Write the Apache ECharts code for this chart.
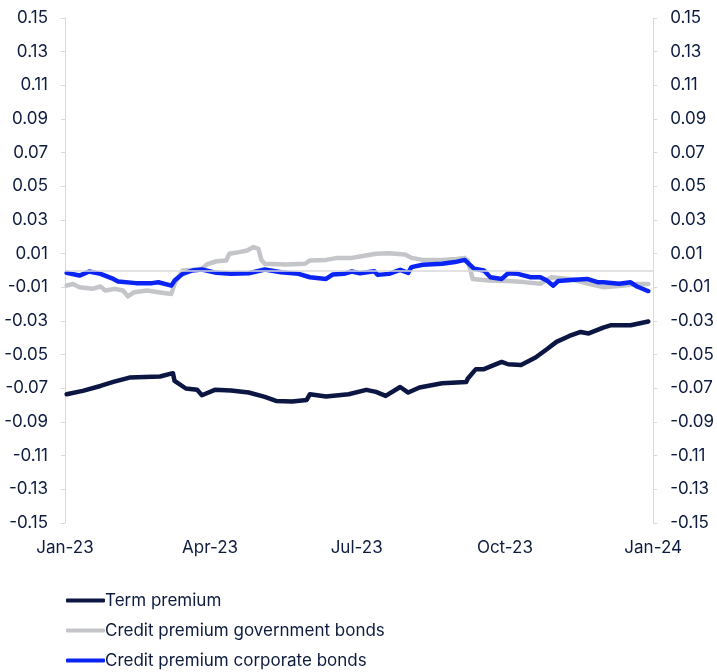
<!DOCTYPE html>
<html>
<head>
<meta charset="utf-8">
<script src="https://cdn.jsdelivr.net/npm/echarts@6/dist/echarts.min.js"></script>
<style>
html,body{margin:0;padding:0;background:#fff;}
#chart{width:717px;height:672px;}
</style>
</head>
<body>
<div id="chart"></div>
<script>
// ---- data ----
const seriesNames = ['Term premium', 'Credit premium government bonds', 'Credit premium corporate bonds'];

const termPremium = [
  ['2023-01-02', -0.0735], ['2023-01-12', -0.0715], ['2023-01-23', -0.0686], ['2023-01-31', -0.0662],
  ['2023-02-10', -0.0636], ['2023-03-01', -0.0630], ['2023-03-09', -0.0610], ['2023-03-10', -0.0656],
  ['2023-03-17', -0.0701], ['2023-03-24', -0.0709], ['2023-03-27', -0.0741], ['2023-04-04', -0.0709],
  ['2023-04-14', -0.0713], ['2023-04-25', -0.0725], ['2023-05-05', -0.0751], ['2023-05-12', -0.0775],
  ['2023-05-22', -0.0778], ['2023-05-31', -0.0769], ['2023-06-02', -0.0735], ['2023-06-12', -0.0749],
  ['2023-06-26', -0.0735], ['2023-07-07', -0.0709], ['2023-07-13', -0.0721], ['2023-07-19', -0.0745],
  ['2023-07-28', -0.0692], ['2023-08-02', -0.0725], ['2023-08-09', -0.0695], ['2023-08-23', -0.0670],
  ['2023-09-07', -0.0662], ['2023-09-08', -0.0642], ['2023-09-13', -0.0586], ['2023-09-18', -0.0586],
  ['2023-09-29', -0.0543], ['2023-10-03', -0.0557], ['2023-10-11', -0.0561], ['2023-10-20', -0.0517],
  ['2023-10-27', -0.0468], ['2023-11-02', -0.0424], ['2023-11-10', -0.0389], ['2023-11-17', -0.0365],
  ['2023-11-22', -0.0374], ['2023-12-01', -0.0339], ['2023-12-06', -0.0325], ['2023-12-18', -0.0325],
  ['2023-12-29', -0.0303]
];

const creditGov = [
  ['2023-01-02', -0.0089], ['2023-01-06', -0.0080], ['2023-01-10', -0.0099], ['2023-01-18', -0.0109],
  ['2023-01-23', -0.0095], ['2023-01-26', -0.0119], ['2023-02-01', -0.0109], ['2023-02-06', -0.0119],
  ['2023-02-09', -0.0154], ['2023-02-13', -0.0129], ['2023-02-21', -0.0119], ['2023-02-28', -0.0129],
  ['2023-03-08', -0.0139], ['2023-03-10', -0.0080], ['2023-03-15', 0.0000], ['2023-03-21', 0.0004],
  ['2023-03-27', 0.0010], ['2023-03-30', 0.0036], ['2023-04-05', 0.0055], ['2023-04-11', 0.0060],
  ['2023-04-13', 0.0099], ['2023-04-19', 0.0109], ['2023-04-24', 0.0119], ['2023-04-28', 0.0139],
  ['2023-05-01', 0.0129], ['2023-05-03', 0.0060], ['2023-05-05', 0.0040], ['2023-05-18', 0.0036],
  ['2023-05-30', 0.0040], ['2023-06-02', 0.0060], ['2023-06-12', 0.0063], ['2023-06-19', 0.0075],
  ['2023-06-28', 0.0075], ['2023-07-03', 0.0083], ['2023-07-13', 0.0099], ['2023-07-21', 0.0103],
  ['2023-07-31', 0.0095], ['2023-08-04', 0.0075], ['2023-08-11', 0.0063], ['2023-08-23', 0.0063],
  ['2023-09-01', 0.0069], ['2023-09-06', 0.0075], ['2023-09-08', 0.0060], ['2023-09-11', -0.0050],
  ['2023-09-21', -0.0060], ['2023-10-03', -0.0063], ['2023-10-13', -0.0069], ['2023-10-23', -0.0079],
  ['2023-10-30', -0.0040], ['2023-11-10', -0.0050], ['2023-11-22', -0.0079], ['2023-12-01', -0.0099],
  ['2023-12-14', -0.0089], ['2023-12-22', -0.0080], ['2023-12-29', -0.0080]
];

const creditCorp = [
  ['2023-01-02', -0.0014], ['2023-01-10', -0.0030], ['2023-01-16', -0.0006], ['2023-01-23', -0.0020],
  ['2023-01-31', -0.0050], ['2023-02-03', -0.0065], ['2023-02-14', -0.0075], ['2023-02-24', -0.0075],
  ['2023-02-28', -0.0070], ['2023-03-08', -0.0090], ['2023-03-10', -0.0060], ['2023-03-15', -0.0020],
  ['2023-03-21', 0.0000], ['2023-03-27', 0.0006], ['2023-04-05', -0.0014], ['2023-04-14', -0.0020],
  ['2023-04-25', -0.0016], ['2023-05-05', 0.0006], ['2023-05-15', -0.0010], ['2023-05-26', -0.0020],
  ['2023-06-02', -0.0040], ['2023-06-12', -0.0050], ['2023-06-16', -0.0024], ['2023-06-23', -0.0020],
  ['2023-06-28', -0.0006], ['2023-07-03', -0.0016], ['2023-07-12', -0.0004], ['2023-07-14', -0.0026],
  ['2023-07-21', -0.0020], ['2023-07-28', 0.0004], ['2023-08-02', -0.0014], ['2023-08-04', 0.0020],
  ['2023-08-11', 0.0034], ['2023-08-23', 0.0040], ['2023-08-31', 0.0050], ['2023-09-06', 0.0063],
  ['2023-09-12', 0.0010], ['2023-09-18', 0.0000], ['2023-09-22', -0.0040], ['2023-09-29', -0.0050],
  ['2023-10-03', -0.0016], ['2023-10-09', -0.0020], ['2023-10-17', -0.0040], ['2023-10-23', -0.0040],
  ['2023-10-27', -0.0060], ['2023-10-31', -0.0090], ['2023-11-03', -0.0063], ['2023-11-13', -0.0055],
  ['2023-11-21', -0.0050], ['2023-11-28', -0.0070], ['2023-12-01', -0.0070], ['2023-12-11', -0.0079],
  ['2023-12-18', -0.0070], ['2023-12-22', -0.0095], ['2023-12-28', -0.0119], ['2023-12-29', -0.0122]
];

const seriesColors = ['#0b1642', '#c3c5c9', '#0a24f6'];
const monthAbbr = ['Jan','Feb','Mar','Apr','May','Jun','Jul','Aug','Sep','Oct','Nov','Dec'];
const quarterMonths = [0, 3, 6, 9];

// ---- chart ----
const textColor = '#0d1b3e';
const axisGray = '#d9d9d9';
const chart = echarts.init(document.getElementById('chart'), null, {renderer: 'canvas'});

function yLabel(v) { return (Math.round(v * 100) / 100).toFixed(2); }

const yAxisCommon = {
  type: 'value',
  min: -0.15,
  max: 0.15,
  interval: 0.02,
  splitLine: {show: false},
  axisLine: {show: true, lineStyle: {color: axisGray, width: 1}},
  axisTick: {show: true, length: 4, lineStyle: {color: axisGray}},
  axisLabel: {color: textColor, fontSize: 17, fontFamily: 'Inter', margin: 17, formatter: yLabel}
};

const option = {
  animation: false,
  backgroundColor: '#ffffff',
  grid: {left: 65, right: 62, top: 18, bottom: 149},
  legend: {
    orient: 'vertical',
    left: 66,
    top: 591,
    padding: 0,
    height: 81,
    icon: 'roundRect',
    itemWidth: 39,
    itemHeight: 4,
    itemGap: 11,
    textStyle: {color: textColor, fontSize: 17, fontFamily: 'Inter', lineHeight: 19, padding: [0, 0, 0, -5]},
    data: seriesNames
  },
  xAxis: {
    type: 'time',
    min: '2023-01-01',
    max: '2024-01-01',
    splitNumber: 12,
    minInterval: 28 * 24 * 3600 * 1000,
    axisLine: {show: false},
    axisTick: {show: false},
    splitLine: {show: false},
    axisLabel: {
      color: textColor, fontSize: 17, fontFamily: 'Inter', margin: 16,
      showMinLabel: true, showMaxLabel: true, hideOverlap: false,
      formatter: function (value) {
        const d = new Date(value);
        if (d.getDate() !== 1 || quarterMonths.indexOf(d.getMonth()) < 0) return '';
        return monthAbbr[d.getMonth()] + '-' + String(d.getFullYear()).slice(2);
      }
    }
  },
  yAxis: [
    Object.assign({}, yAxisCommon, {position: 'left'}),
    Object.assign({}, yAxisCommon, {position: 'right'})
  ],
  series: [
    {
      name: seriesNames[0], type: 'line', data: termPremium, showSymbol: false, symbol: 'none',
      lineStyle: {color: seriesColors[0], width: 4.5, cap: 'round', join: 'round'}, itemStyle: {color: seriesColors[0]},
      markLine: {
        silent: true, symbol: 'none', label: {show: false},
        lineStyle: {color: axisGray, width: 1.5, type: 'solid'},
        data: [{yAxis: 0}]
      }
    },
    {
      name: seriesNames[1], type: 'line', data: creditGov, showSymbol: false, symbol: 'none',
      lineStyle: {color: seriesColors[1], width: 4.5, cap: 'round', join: 'round'}, itemStyle: {color: seriesColors[1]}
    },
    {
      name: seriesNames[2], type: 'line', data: creditCorp, showSymbol: false, symbol: 'none',
      lineStyle: {color: seriesColors[2], width: 4.5, cap: 'round', join: 'round'}, itemStyle: {color: seriesColors[2]}
    }
  ]
};
chart.setOption(option);
</script>
</body>
</html>
